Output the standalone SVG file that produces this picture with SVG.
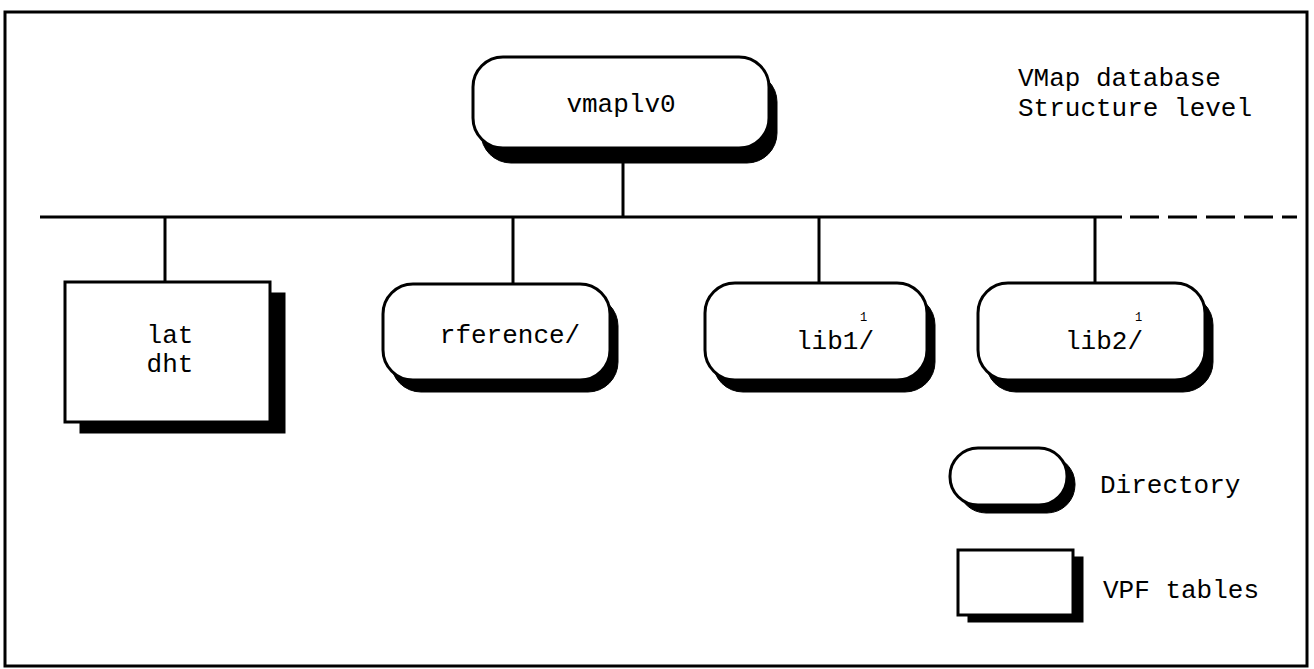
<svg xmlns="http://www.w3.org/2000/svg" width="1314" height="669" viewBox="0 0 1314 669">
<style>
.box{fill:#fff;stroke:#000;stroke-width:3}
.sh{fill:#000;stroke:#000;stroke-width:1}
.t{font-family:"Liberation Mono","Courier New",monospace;font-size:26px;fill:#000}
.sup{font-family:"Liberation Mono","Courier New",monospace;font-size:12px;fill:#000}
.ln{stroke:#000;stroke-width:3;fill:none}
</style>
<rect x="0" y="0" width="1314" height="669" fill="#fff"/>
<rect x="5" y="12" width="1302" height="654" fill="none" stroke="#000" stroke-width="3"/>
<g id="title">
<text class="t" x="1018" y="86">VMap database</text>
<text class="t" x="1018" y="116">Structure level</text>
</g>
<g id="connectors">
<line class="ln" x1="623" y1="160" x2="623" y2="217"/>
<line class="ln" x1="40" y1="217" x2="1122" y2="217"/>
<line class="ln" x1="1130" y1="217" x2="1297" y2="217" stroke-dasharray="29 9"/>
<line class="ln" x1="165" y1="217" x2="165" y2="282"/>
<line class="ln" x1="513" y1="217" x2="513" y2="284"/>
<line class="ln" x1="819" y1="217" x2="819" y2="283"/>
<line class="ln" x1="1095" y1="217" x2="1095" y2="283"/>
</g>
<g id="vmaplv0">
<rect class="sh" x="481" y="72" width="296" height="91" rx="30"/>
<rect class="box" x="473" y="57" width="296" height="91" rx="30"/>
<text class="t" x="621" y="112" text-anchor="middle">vmaplv0</text>
</g>
<g id="latdht">
<rect class="sh" x="80" y="293" width="205" height="140"/>
<rect class="box" x="65" y="282" width="205" height="140"/>
<text class="t" x="170" y="343" text-anchor="middle">lat</text>
<text class="t" x="170" y="372" text-anchor="middle">dht</text>
</g>
<g id="rference">
<rect class="sh" x="391" y="296" width="227" height="96" rx="30"/>
<rect class="box" x="383" y="284" width="227" height="96" rx="30"/>
<text class="t" x="510" y="343" text-anchor="middle">rference/</text>
</g>
<g id="lib1">
<rect class="sh" x="713" y="295" width="222" height="97" rx="30"/>
<rect class="box" x="705" y="283" width="222" height="97" rx="30"/>
<text class="t" x="796" y="349">lib1/</text>
<text class="sup" x="860" y="321">1</text>
</g>
<g id="lib2">
<rect class="sh" x="986" y="295" width="227" height="97" rx="30"/>
<rect class="box" x="978" y="283" width="227" height="97" rx="30"/>
<text class="t" x="1065" y="349">lib2/</text>
<text class="sup" x="1135" y="321">1</text>
</g>
<g id="legend-directory">
<rect class="sh" x="958" y="456" width="117" height="57" rx="28"/>
<rect class="box" x="950" y="448" width="117" height="57" rx="28"/>
<text class="t" x="1100" y="493">Directory</text>
</g>
<g id="legend-vpf">
<rect class="sh" x="968" y="557" width="115" height="65"/>
<rect class="box" x="958" y="550" width="115" height="65"/>
<text class="t" x="1103" y="598">VPF tables</text>
</g>
</svg>
